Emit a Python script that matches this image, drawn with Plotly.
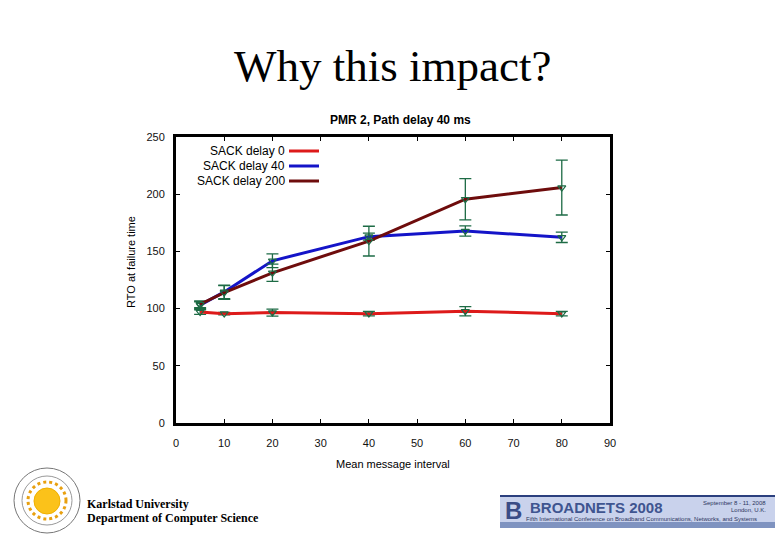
import plotly.graph_objects as go

x_vals = [5, 10, 20, 40, 60, 80]
sack0 = [97, 95.6, 96.5, 95.6, 97.7, 95.6]
sack0_err = [2, 1, 3, 2, 4, 2]
sack40 = [103, 114.6, 141.8, 162.9, 167.8, 162.3]
sack40_err = [3, 6, 6, 3, 4.5, 4.5]
sack200 = [103.8, 114, 131.3, 159, 195.6, 205.8]
sack200_err = [3, 6, 7.5, 13, 18, 24]
series_names = ["SACK delay 0", "SACK delay 40", "SACK delay 200"]
series_colors = ["#dd1a1a", "#1414c8", "#6e0c0c"]
x_ticks = [0, 10, 20, 30, 40, 50, 60, 70, 80, 90]
y_ticks = [0, 50, 100, 150, 200, 250]

W, H = 780, 540
L, R, T, B = 176, 610, 137, 423


def px(x):
    return (x - L) / (R - L)


def py(y):
    return (B - y) / (B - T)


err_color = "#1d6b45"
fig = go.Figure()
for name, ys, es, col in zip(series_names, [sack0, sack40, sack200],
                             [sack0_err, sack40_err, sack200_err], series_colors):
    fig.add_trace(go.Scatter(
        x=x_vals, y=ys, name=name, mode="lines+markers",
        line=dict(color=col, width=3),
        marker=dict(symbol="triangle-down-open", size=7, color=err_color,
                    line=dict(color=err_color, width=1.2)),
        error_y=dict(type="data", array=es, visible=True, color=err_color,
                     thickness=1.3, width=6),
        showlegend=False,
    ))

ann = []
shapes = []
# Title and subtitle
ann.append(dict(text="Why this impact?", x=px(392), y=py(66), xref="paper", yref="paper",
                showarrow=False, font=dict(family="Liberation Serif", size=45, color="black"),
                xanchor="center", yanchor="middle"))
ann.append(dict(text="<b>PMR 2, Path delay 40 ms</b>", x=px(400), y=py(120), xref="paper", yref="paper",
                showarrow=False, font=dict(family="Liberation Sans", size=12, color="black"),
                xanchor="center", yanchor="middle"))
# Axis titles
ann.append(dict(text="RTO at failure time", x=px(131), y=py(262), xref="paper", yref="paper",
                showarrow=False, textangle=-90,
                font=dict(family="Liberation Sans", size=11, color="black"),
                xanchor="center", yanchor="middle"))
ann.append(dict(text="Mean message interval", x=px(393), y=py(464), xref="paper", yref="paper",
                showarrow=False, font=dict(family="Liberation Sans", size=11, color="black"),
                xanchor="center", yanchor="middle"))
# Legend
for i, (name, col) in enumerate(zip(series_names, series_colors)):
    yy = 151 + 15 * i
    ann.append(dict(text=name, x=px(287), y=py(yy), xref="paper", yref="paper",
                    showarrow=False, font=dict(family="Liberation Sans", size=12, color="black"),
                    xanchor="right", yanchor="middle"))
    shapes.append(dict(type="line", xref="paper", yref="paper", x0=px(289), x1=px(319),
                       y0=py(yy), y1=py(yy), line=dict(color=col, width=3)))

# Karlstad logo
shapes.append(dict(type="circle", xref="paper", yref="paper", x0=px(14), x1=px(80), y0=py(468), y1=py(533),
                   line=dict(color="#777777", width=1), fillcolor="white"))
shapes.append(dict(type="circle", xref="paper", yref="paper", x0=px(22), x1=px(72), y0=py(476), y1=py(525),
                   line=dict(color="#999999", width=1), fillcolor="white"))
shapes.append(dict(type="circle", xref="paper", yref="paper", x0=px(28), x1=px(66), y0=py(482), y1=py(519),
                   line=dict(color="#e8a010", width=3, dash="dot"), fillcolor="rgba(0,0,0,0)"))
shapes.append(dict(type="circle", xref="paper", yref="paper", x0=px(34), x1=px(60), y0=py(488), y1=py(514),
                   line=dict(color="#f0b000", width=1), fillcolor="#fbc21a"))
ann.append(dict(text="<b>Karlstad University</b>", x=px(85), y=py(504), xref="paper", yref="paper",
                showarrow=False, font=dict(family="Liberation Serif", size=12, color="black"),
                xanchor="left", yanchor="middle"))
ann.append(dict(text="<b>Department of Computer Science</b>", x=px(85), y=py(518), xref="paper", yref="paper",
                showarrow=False, font=dict(family="Liberation Serif", size=12, color="black"),
                xanchor="left", yanchor="middle"))

# BROADNETS banner
shapes.append(dict(type="rect", xref="paper", yref="paper", x0=px(500), x1=px(775), y0=py(495), y1=py(528),
                   line=dict(width=0), fillcolor="#c9d2ec"))
shapes.append(dict(type="rect", xref="paper", yref="paper", x0=px(500), x1=px(775), y0=py(495), y1=py(497),
                   line=dict(width=0), fillcolor="#2b3f7e"))
shapes.append(dict(type="rect", xref="paper", yref="paper", x0=px(500), x1=px(775), y0=py(522), y1=py(528),
                   line=dict(width=0), fillcolor="#7f93c0"))
ann.append(dict(text="<b>B</b>", x=px(513), y=py(510), xref="paper", yref="paper",
                showarrow=False, font=dict(family="Liberation Sans", size=24, color="#3a4c86"),
                xanchor="center", yanchor="middle"))
ann.append(dict(text="<b>BROADNETS 2008</b>", x=px(528), y=py(507), xref="paper", yref="paper",
                showarrow=False, font=dict(family="Liberation Sans", size=15, color="#3f5590"),
                xanchor="left", yanchor="middle"))
ann.append(dict(text="Fifth International Conference on Broadband Communications, Networks, and Systems",
                x=px(524), y=py(519), xref="paper", yref="paper",
                showarrow=False, font=dict(family="Liberation Sans", size=6, color="#2b3560"),
                xanchor="left", yanchor="middle"))
ann.append(dict(text="September 8 - 11, 2008", x=px(768), y=py(503), xref="paper", yref="paper",
                showarrow=False, font=dict(family="Liberation Sans", size=6, color="#2b3560"),
                xanchor="right", yanchor="middle"))
ann.append(dict(text="London, U.K.", x=px(768), y=py(510), xref="paper", yref="paper",
                showarrow=False, font=dict(family="Liberation Sans", size=6, color="#2b3560"),
                xanchor="right", yanchor="middle"))

axis_font = dict(family="Liberation Sans", size=11, color="#111111")
fig.update_layout(
    width=W, height=H,
    margin=dict(l=L, r=W - R, t=T, b=H - B, pad=0),
    paper_bgcolor="white", plot_bgcolor="white",
    xaxis=dict(range=[0, 90], tickvals=x_ticks, ticks="inside", ticklen=4, tickwidth=1,
               tickcolor="black", showline=True, linecolor="black", linewidth=3, mirror="ticks",
               showgrid=False, zeroline=False, tickfont=axis_font, ticklabelstandoff=8),
    yaxis=dict(range=[0, 250], tickvals=y_ticks, ticks="inside", ticklen=4, tickwidth=1,
               tickcolor="black", showline=True, linecolor="black", linewidth=3, mirror="ticks",
               showgrid=False, zeroline=False, tickfont=axis_font, ticklabelstandoff=6),
    annotations=ann,
    shapes=shapes,
    showlegend=False,
)

fig.write_html("out.html")
